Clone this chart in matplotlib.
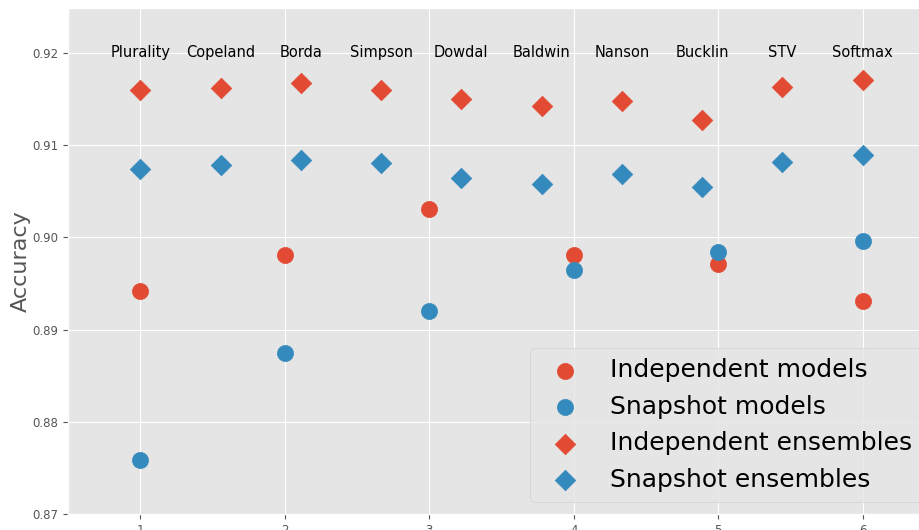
import matplotlib
matplotlib.use("Agg")
import matplotlib.pyplot as plt
import numpy as np

plt.style.use("ggplot")

# Voting / aggregation methods used to combine model outputs
methods = ["Plurality", "Copeland", "Borda", "Simpson", "Dowdal",
           "Baldwin", "Nanson", "Bucklin", "STV", "Softmax"]

# Number of models in the pool
n_models = [1, 2, 3, 4, 5, 6]

# Accuracy of individual models
independent_models = [0.8942, 0.8981, 0.9031, 0.8981, 0.8971, 0.8931]
snapshot_models = [0.8759, 0.8875, 0.8920, 0.8965, 0.8984, 0.8996]

# Accuracy of ensembles for each aggregation method
independent_ensembles = [0.9159, 0.9162, 0.9167, 0.9160, 0.9150,
                         0.9142, 0.9148, 0.9127, 0.9163, 0.9170]
snapshot_ensembles = [0.9074, 0.9078, 0.9084, 0.9081, 0.9064,
                      0.9058, 0.9069, 0.9054, 0.9082, 0.9089]

red = "#E24A33"
blue = "#348ABD"

fig = plt.figure(figsize=(9.19, 5.30), dpi=100)
ax = fig.add_axes([68 / 919, 0.0296, 867 / 919, 0.9547])

method_x = np.linspace(n_models[0], n_models[-1], len(methods))

ax.scatter(n_models, independent_models, s=135, color=red, marker="o",
           label="Independent models", zorder=3)
ax.scatter(n_models, snapshot_models, s=135, color=blue, marker="o",
           label="Snapshot models", zorder=3)
ax.scatter(method_x, independent_ensembles, s=110, color=red, marker="D",
           label="Independent ensembles", zorder=3)
ax.scatter(method_x, snapshot_ensembles, s=110, color=blue, marker="D",
           label="Snapshot ensembles", zorder=3)

for x, name in zip(method_x, methods):
    ax.text(x, 0.92, name, ha="center", va="center", fontsize=10.5,
            color="black", zorder=4)

ax.set_xlim(0.5, 6.5)
ax.set_ylim(0.87, 0.9248)
ax.set_xticks(n_models)
ax.set_yticks([0.87, 0.88, 0.89, 0.90, 0.91, 0.92])
ax.set_yticklabels(["0.87", "0.88", "0.89", "0.90", "0.91", "0.92"])
ax.tick_params(axis="both", labelsize=8.5, colors="#555555")
ax.set_ylabel("Accuracy", fontsize=16, color="#555555", labelpad=1)

ax.legend(loc="lower right", fontsize=18, scatterpoints=1, borderpad=0.4)

fig.savefig("out.png", dpi=100)
